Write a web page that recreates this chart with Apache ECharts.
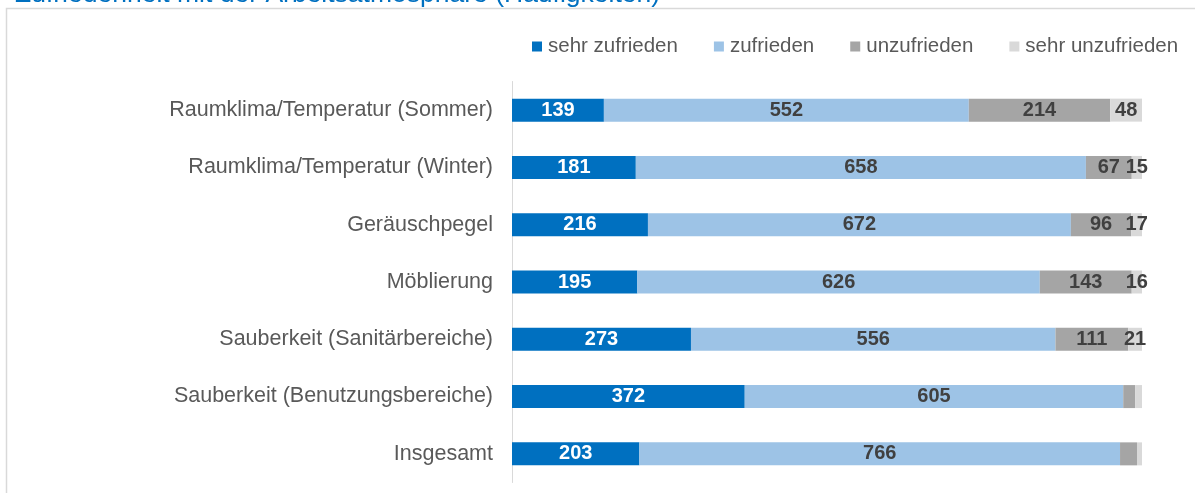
<!DOCTYPE html>
<html>
<head>
<meta charset="utf-8">
<script src="https://cdn.jsdelivr.net/npm/echarts@6/dist/echarts.min.js"></script>
<style>
  html, body { margin: 0; padding: 0; background: #ffffff; }
  #chart { width: 1195px; height: 493px; }
</style>
</head>
<body>
<div id="chart"></div>
<script>
// Satisfaction with the working environment, counts per answer
const categories = [
  'Raumklima/Temperatur (Sommer)',
  'Raumklima/Temperatur (Winter)',
  'Geräuschpegel',
  'Möblierung',
  'Sauberkeit (Sanitärbereiche)',
  'Sauberkeit (Benutzungsbereiche)',
  'Insgesamt'
];
const seriesNames = ['sehr zufrieden', 'zufrieden', 'unzufrieden', 'sehr unzufrieden'];
const sehrZufrieden   = [139, 181, 216, 195, 273, 372, 203];
const zufrieden       = [552, 658, 672, 626, 556, 605, 766];
const unzufrieden     = [214,  67,  96, 143, 111,  19,  27];
const sehrUnzufrieden = [ 48,  15,  17,  16,  21,  11,   8];
// rows whose two negative segments carry no value label
const unlabelledRows = ['Sauberkeit (Benutzungsbereiche)', 'Insgesamt'];

const colors = ['#0070C0', '#9DC3E6', '#A5A5A5', '#D9D9D9'];
const labelColors = ['#FFFFFF', '#404040', '#404040', '#404040'];

const allValues = [sehrZufrieden, zufrieden, unzufrieden, sehrUnzufrieden];
const totals = categories.map((_, i) => allValues.reduce((s, arr) => s + arr[i], 0));

const series = allValues.map((vals, si) => ({
  name: seriesNames[si],
  type: 'bar',
  stack: 'total',
  barWidth: 23,
  itemStyle: { color: colors[si] },
  label: {
    show: true,
    position: 'inside',
    color: labelColors[si],
    fontFamily: 'Liberation Sans, Arial, sans-serif',
    fontWeight: 'bold',
    fontSize: 20,
    formatter: p => String(p.data.raw)
  },
  emphasis: { disabled: true },
  data: vals.map((v, i) => ({
    value: v / totals[i] * 100,
    raw: v,
    label: { show: !(si >= 2 && unlabelledRows.includes(categories[i])) }
  }))
}));

const chart = echarts.init(document.getElementById('chart'), null, { renderer: 'canvas' });
chart.setOption({
  animation: false,
  backgroundColor: '#ffffff',
  textStyle: { fontFamily: 'Liberation Sans, Arial, sans-serif' },
  title: {
    text: 'Zufriedenheit mit der Arbeitsatmosphäre (Häufigkeiten)',
    left: 10,
    top: -24,
    textStyle: { color: '#0070C0', fontSize: 26.5, fontWeight: 'normal', fontFamily: 'Liberation Sans, Arial, sans-serif' }
  },
  graphic: [{
    type: 'rect',
    shape: { x: 6.5, y: 8.5, width: 1300, height: 600 },
    style: { fill: 'none', stroke: '#D9D9D9', lineWidth: 1.5 },
    silent: true,
    z: -1
  }],
  legend: {
    left: 527,
    top: 31,
    itemWidth: 10,
    itemHeight: 10,
    itemGap: 36,
    icon: 'rect',
    textStyle: { color: '#595959', fontSize: 20.5, padding: [0, 0, 0, 1], fontFamily: 'Liberation Sans, Arial, sans-serif' },
    data: seriesNames
  },
  grid: { left: 512, right: 53, top: 81.5, bottom: 10.5, containLabel: false },
  xAxis: {
    type: 'value',
    min: 0,
    max: 100,
    show: false
  },
  yAxis: {
    type: 'category',
    inverse: true,
    data: categories,
    axisLine: { show: true, lineStyle: { color: '#D9D9D9', width: 1 } },
    axisTick: { show: false },
    axisLabel: { color: '#595959', fontSize: 21.5, margin: 19, fontFamily: 'Liberation Sans, Arial, sans-serif' }
  },
  series: series
});
</script>
</body>
</html>
